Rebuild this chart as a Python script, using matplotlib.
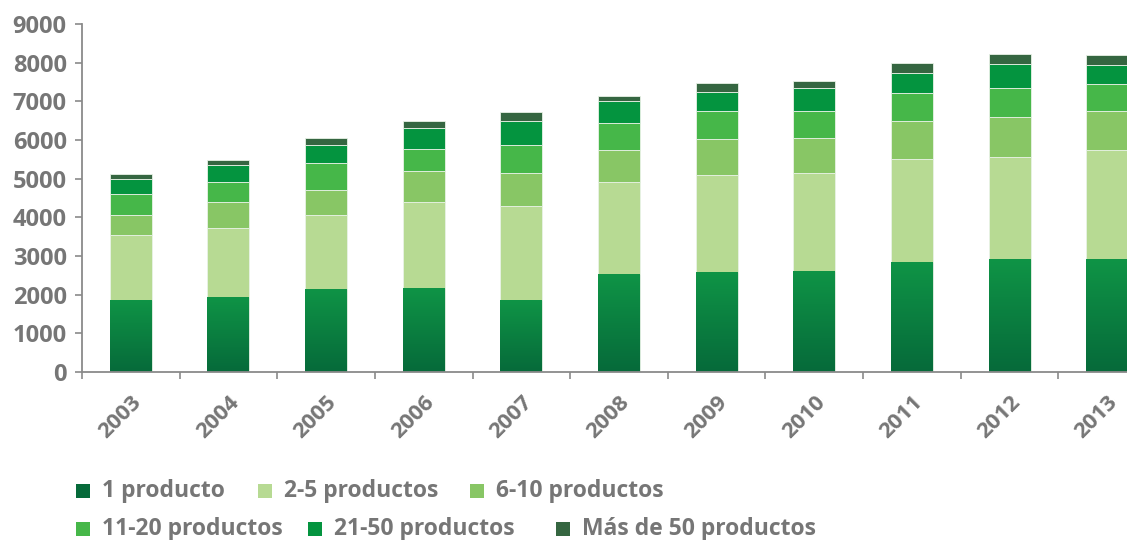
import numpy as np
import matplotlib
matplotlib.use("Agg")
import matplotlib.pyplot as plt
from matplotlib.patches import Rectangle
from matplotlib.colors import LinearSegmentedColormap

years = ["2003", "2004", "2005", "2006", "2007", "2008",
         "2009", "2010", "2011", "2012", "2013"]
series_names = ["1 producto", "2-5 productos", "6-10 productos",
                "11-20 productos", "21-50 productos", "Más de 50 productos"]
p1 = [1870, 1947, 2154, 2162, 1852, 2534, 2576, 2620, 2834, 2912, 2912]
p2_5 = [1663, 1785, 1914, 2242, 2431, 2387, 2526, 2534, 2675, 2648, 2837]
p6_10 = [535, 664, 646, 802, 863, 828, 923, 905, 972, 1042, 1008]
p11_20 = [525, 517, 698, 568, 724, 698, 724, 698, 733, 750, 699]
p21_50 = [397, 430, 458, 544, 629, 569, 499, 595, 526, 603, 491]
p50 = [130, 129, 189, 181, 224, 129, 215, 173, 251, 268, 250]
yticks = [0, 1000, 2000, 3000, 4000, 5000, 6000, 7000, 8000, 9000]

colors = ["#0a8442", "#b7da93", "#88c665", "#46b749", "#04943f", "#356641"]
grad_top, grad_bottom = "#0f9446", "#066a3a"
text_color = "#767676"
axis_color = "#8a8a8a"
font = "Open Sans"

W, H = 1127, 540
fig = plt.figure(figsize=(W / 100, H / 100), dpi=100)
ax = fig.add_axes([82 / W, 168 / H, 1074 / W, 348 / H])

x = np.arange(len(years))
width = 0.43
data = [p1, p2_5, p6_10, p11_20, p21_50, p50]
bottom = np.zeros(len(years))
containers = []
for vals, col in zip(data, colors):
    vals = np.array(vals, dtype=float)
    bc = ax.bar(x, vals, width, bottom=bottom, color=col,
                edgecolor="#e9f2e6", linewidth=0.6, zorder=2)
    containers.append(bc)
    bottom += vals

# vertical gradient fill on the "1 producto" segments
cmap = LinearSegmentedColormap.from_list("g", [grad_bottom, grad_top])
grad = np.linspace(0, 1, 256).reshape(-1, 1)
for rect in containers[0]:
    x0, y0 = rect.get_x(), rect.get_y()
    w, h = rect.get_width(), rect.get_height()
    im = ax.imshow(grad, cmap=cmap, origin="lower", aspect="auto",
                   extent=[x0, x0 + w, y0, y0 + h], zorder=2.5)
    im.set_clip_path(rect)

ax.set_xlim(-0.5, len(years) - 0.5)
ax.set_ylim(0, 9000)

for s in ["top", "right"]:
    ax.spines[s].set_visible(False)
for s in ["left", "bottom"]:
    ax.spines[s].set_color(axis_color)
    ax.spines[s].set_linewidth(1.3)

ax.set_yticks(yticks)
ax.set_yticklabels([str(v) for v in yticks])
ax.tick_params(axis="y", length=5, width=1.2, color=axis_color, pad=6,
               labelsize=17, labelcolor=text_color)
ax.set_xticks(x)
ax.set_xticklabels(years, rotation=45, ha="right", rotation_mode="anchor")
ax.tick_params(axis="x", which="major", length=0, pad=14,
               labelsize=16, labelcolor=text_color)
ax.set_xticks(np.arange(-0.5, len(years), 1.0), minor=True)
ax.tick_params(axis="x", which="minor", length=5, width=1.2, color=axis_color)
for lab in ax.get_xticklabels() + ax.get_yticklabels():
    lab.set_fontfamily(font)
    lab.set_fontweight("bold")

# legend laid out in two flowing rows
legend_items = [
    (0, 76, 491), (1, 258, 491), (2, 470, 491),
    (3, 76, 529), (4, 308, 529), (5, 556, 529),
]
for idx, px, py in legend_items:
    fc = grad_bottom if idx == 0 else colors[idx]
    fig.patches.append(Rectangle((px / W, 1 - (py + 7) / H), 14 / W, 14 / H,
                                 transform=fig.transFigure, facecolor=fc,
                                 edgecolor="none"))
    fig.text((px + 26) / W, 1 - py / H, series_names[idx], fontsize=16.5,
             fontfamily=font, fontweight="bold", color=text_color,
             va="center", ha="left")

fig.savefig("out.png", dpi=100)
